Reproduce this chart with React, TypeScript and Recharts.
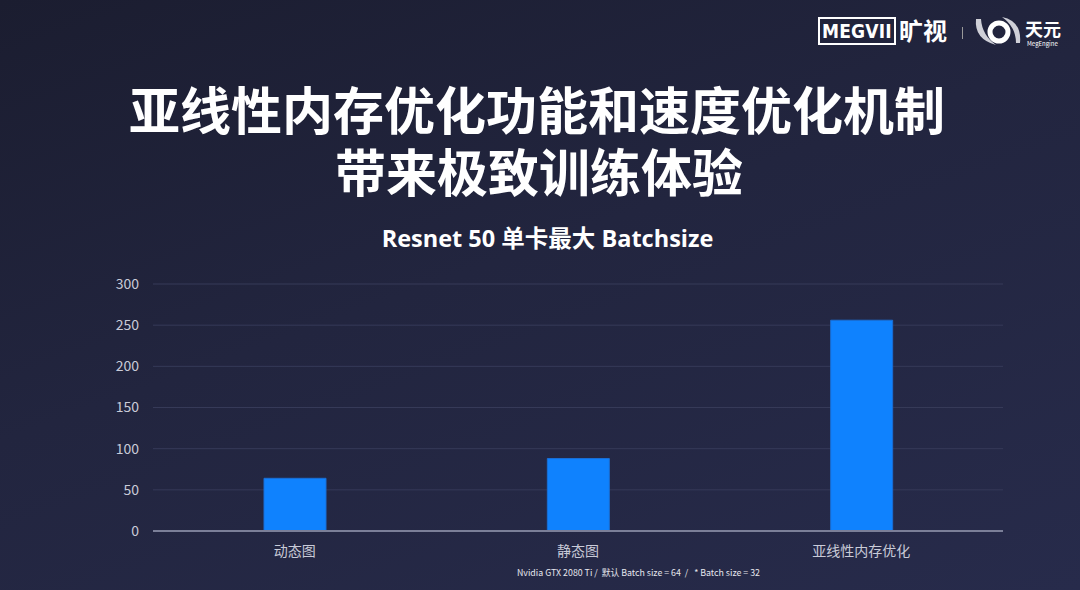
import { BarChart, Bar, XAxis, YAxis, CartesianGrid } from 'recharts';

const categories = ['动态图', '静态图', '亚线性内存优化'];
const batchSizes = [64, 88, 256];
const yTicks = [0, 50, 100, 150, 200, 250, 300];

const chartData = categories.map((name, i) => ({ name, value: batchSizes[i] }));

const FONT = '"Noto Sans CJK SC", "Noto Sans", sans-serif';
const LATIN_FONT = '"Open Sans", "Noto Sans CJK SC", sans-serif';

const Logo = () => (
  <div style={{ position: 'absolute', top: 0, left: 0, color: '#fff', fontFamily: FONT, whiteSpace: 'nowrap' }}>
    <div
      style={{
        position: 'absolute',
        top: 17,
        left: 818,
        border: '2px solid #fff',
        padding: '0 2px',
        fontWeight: 700,
        fontSize: 19,
        lineHeight: '24px',
        letterSpacing: 0.2,
        fontFamily: '"DejaVu Sans Condensed", "Liberation Sans Narrow", sans-serif',
      }}
    >
      MEGVII
    </div>
    <div style={{ position: 'absolute', top: 15, left: 899, fontSize: 24, fontWeight: 700, lineHeight: '30px' }}>
      旷视
    </div>
    <div style={{ position: 'absolute', top: 27, left: 962, width: 1, height: 12, background: '#999' }} />
    <svg width={48} height={32} style={{ position: 'absolute', top: 15, left: 974 }}>
      <path d="M2 4 Q0 24 22 30 Q8 20 7 4 Z" fill="#cfd0d8" />
      <circle cx={25} cy={17} r={9} fill="none" stroke="#fff" strokeWidth={5} />
      <path d="M46 28 Q48 6 28 2 Q42 12 42 28 Z" fill="#cfd0d8" />
    </svg>
    <div style={{ position: 'absolute', top: 18, left: 1025, fontSize: 18, fontWeight: 700, lineHeight: '20px' }}>
      天元
    </div>
    <div style={{ position: 'absolute', top: 40, left: 1027, fontSize: 6, lineHeight: '7px' }}>MegEngine</div>
  </div>
);

export default function App() {
  return (
    <div
      style={{
        position: 'absolute',
        top: 0,
        left: 0,
        width: 1080,
        height: 590,
        overflow: 'hidden',
        background: 'linear-gradient(160deg, #1b1d30 0%, #22253f 45%, #272b4b 100%)',
        fontFamily: FONT,
      }}
    >
      <Logo />
      <div
        style={{
          position: 'absolute',
          top: 80,
          left: 0,
          width: 1074,
          textAlign: 'center',
          color: '#fff',
          fontWeight: 700,
          fontSize: 51,
          lineHeight: '56px',
        }}
      >
        亚线性内存优化功能和速度优化机制
      </div>
      <div
        style={{
          position: 'absolute',
          top: 142,
          left: 0,
          width: 1078,
          textAlign: 'center',
          color: '#fff',
          fontWeight: 700,
          fontSize: 51,
          lineHeight: '56px',
        }}
      >
        带来极致训练体验
      </div>
      <div
        style={{
          position: 'absolute',
          top: 222,
          left: 0,
          width: 1095,
          textAlign: 'center',
          color: '#fff',
          fontWeight: 700,
          fontSize: 23.5,
          lineHeight: '32px',
          fontFamily: LATIN_FONT,
        }}
      >
        Resnet 50 单卡最大 Batchsize
      </div>
      <div style={{ position: 'absolute', top: 0, left: 0 }}>
        <BarChart
          width={1080}
          height={590}
          data={chartData}
          margin={{ top: 284, right: 77, bottom: 0, left: 93 }}
        >
          <CartesianGrid horizontal vertical={false} stroke="#363a58" strokeWidth={1} />
          <XAxis
            dataKey="name"
            height={59}
            tickLine={false}
            tickSize={0}
            tickMargin={15}
            axisLine={{ stroke: '#7b7f98', strokeWidth: 2 }}
            tick={{ fill: '#c9cbd8', fontSize: 14, fontFamily: FONT }}
          />
          <YAxis
            width={60}
            domain={[0, 300]}
            ticks={yTicks}
            axisLine={false}
            tickLine={false}
            tickSize={0}
            tickMargin={14}
            tick={{ fill: '#c9cbd8', fontSize: 14, fontFamily: FONT }}
          />
          <Bar
            dataKey="value"
            fill="#0f82fe"
            stroke="#1a6fd6"
            strokeWidth={1}
            barSize={62}
            isAnimationActive={false}
          />
        </BarChart>
      </div>
      <div
        style={{
          position: 'absolute',
          top: 567,
          left: 517,
          color: '#e6e7ee',
          fontSize: 8.8,
          lineHeight: '12px',
          whiteSpace: 'pre',
        }}
      >
        {'Nvidia GTX 2080 Ti /  默认 Batch size = 64  /   * Batch size = 32'}
      </div>
    </div>
  );
}
